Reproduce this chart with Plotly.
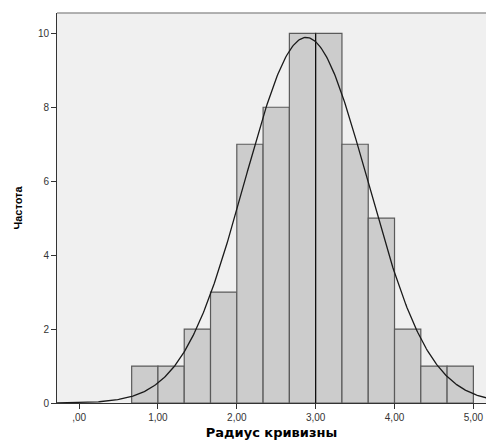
import numpy as np
import plotly.graph_objects as go

bin_left = [0.6667, 1.0, 1.3333, 1.6667, 2.0, 2.3333, 2.6667, 3.0, 3.3333, 3.6667, 4.0, 4.3333, 4.6667]
counts = [1, 1, 2, 3, 7, 8, 10, 10, 7, 5, 2, 1, 1]
bin_width = 1 / 3
mean_val = 2.88
sd_val = 0.78
x_ticks = [0, 1, 2, 3, 4, 5]
x_tick_labels = [",00", "1,00", "2,00", "3,00", "4,00", "5,00"]
y_ticks = [0, 2, 4, 6, 8, 10]

n_total = sum(counts)
centers = [b + bin_width / 2 for b in bin_left]

xs = np.linspace(-0.28, 5.2, 400)
ys = n_total * bin_width / (sd_val * np.sqrt(2 * np.pi)) * np.exp(-((xs - mean_val) ** 2) / (2 * sd_val ** 2))

fig = go.Figure()
fig.add_trace(go.Bar(
    x=centers, y=counts, width=[bin_width] * len(counts),
    marker=dict(color="#cccccc", line=dict(color="#5a5a5a", width=1.2)),
    hoverinfo="skip",
))
fig.add_trace(go.Scatter(
    x=[3.0, 3.0], y=[0, 10], mode="lines",
    line=dict(color="#000000", width=1), hoverinfo="skip",
))
fig.add_trace(go.Scatter(
    x=xs, y=ys, mode="lines",
    line=dict(color="#1a1a1a", width=1.3), hoverinfo="skip",
))

fig.update_layout(
    width=486, height=443,
    margin=dict(l=57, r=0, t=13, b=40),
    paper_bgcolor="white", plot_bgcolor="#f0f0f0",
    showlegend=False, bargap=0,
    font=dict(family="Liberation Sans, Arial, sans-serif", size=10, color="#333333"),
    xaxis=dict(
        range=[-0.28, 5.16], tickvals=x_ticks, ticktext=x_tick_labels,
        showgrid=False, zeroline=False, showline=True, linecolor="#333333", linewidth=1,
        ticks="outside", ticklen=5, tickcolor="#333333",
        title=dict(text="<b>Радиус кривизны</b>",
                   font=dict(family="DejaVu Sans, sans-serif", size=13, color="#000000"), standoff=5),
    ),
    yaxis=dict(
        range=[0, 10.55], tickvals=y_ticks,
        showgrid=False, zeroline=False, showline=True, linecolor="#333333", linewidth=1,
        ticks="outside", ticklen=5, tickcolor="#333333",
        title=dict(text="<b>Частота</b>", font=dict(size=11, color="#000000"), standoff=13),
    ),
    shapes=[dict(type="line", xref="paper", yref="paper", x0=0, x1=1, y0=1, y1=1,
                 line=dict(color="#999999", width=1.5))],
)

fig.write_html(
    "out.html",
    config={"displayModeBar": False, "staticPlot": True},
    post_script="document.body.style.margin='0';document.body.style.overflow='hidden';",
)
